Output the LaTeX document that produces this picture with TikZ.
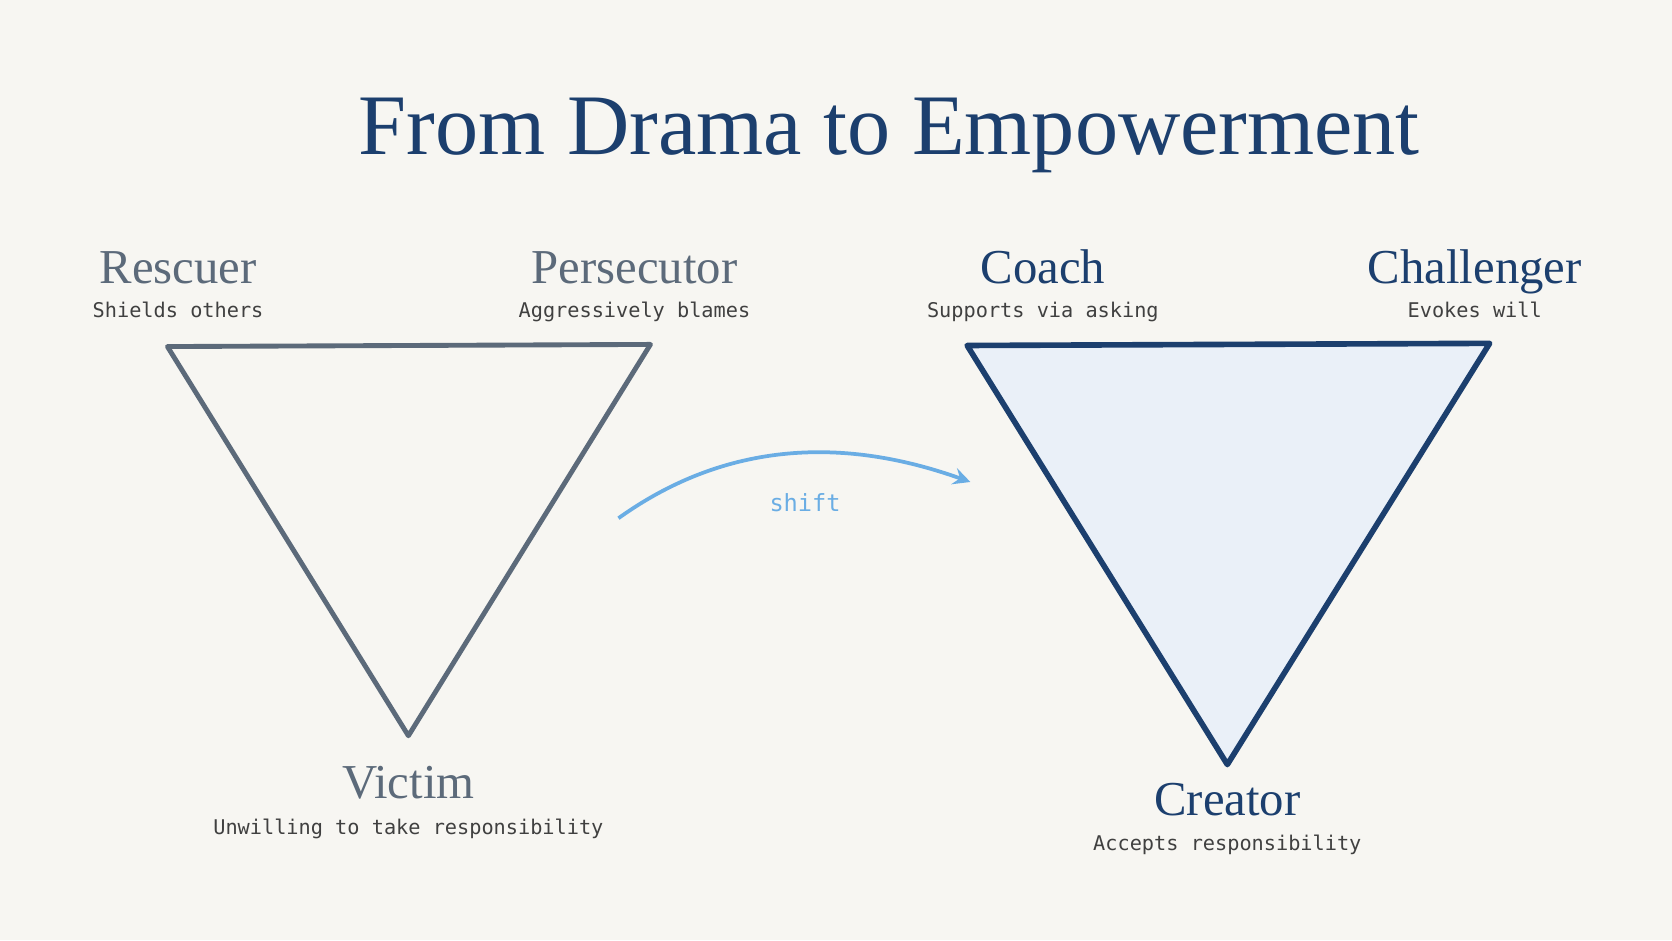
\documentclass[tikz,border=0pt]{standalone}
\usepackage{fontspec}
\setmainfont{Liberation Serif}
\setmonofont{DejaVu Sans Mono}
\usetikzlibrary{positioning, arrows.meta}
\tikzset{>=stealth}
\definecolor{bgpaper}{HTML}{F7F6F2}
\definecolor{navy}{HTML}{1C3F6E}
\definecolor{slate}{HTML}{5C6A7A}
\definecolor{paleblue}{HTML}{EAF0F8}
\definecolor{skyblue}{HTML}{6AADE4}
\tikzset{
  role/.style={anchor=base, font=\fontsize{13}{15}\selectfont},
  note/.style={anchor=base, font=\ttfamily\fontsize{5.4}{7}\selectfont, text=black!75},
}
\begin{document}
\begin{tikzpicture}[x=0.01cm, y=-0.01cm]
	\fill [bgpaper] (0,0) rectangle (1568,882);
	\node (title) [anchor=base, text=navy, font=\fontsize{23}{26}\selectfont] at (834,145) {From Drama to Empowerment};
	% drama triangle
	\coordinate (r) at (157,325);
	\coordinate (p) at (610,323);
	\coordinate (v) at (383,690);
	\draw [slate, line width=1.3pt, line join=round] (r) -- (p) -- (v) -- cycle;
	\node (rescuer) [role, text=slate] at (167,266) {Rescuer};
	\node (rescuernote) [note] at (167,298) {Shields others};
	\node (persecutor) [role, text=slate] at (595,266) {Persecutor};
	\node (persecutornote) [note] at (595,298) {Aggressively blames};
	\node (victim) [role, text=slate] at (383,749) {Victim};
	\node (victimnote) [note] at (383,783) {Unwilling to take responsibility};
	% empowerment triangle
	\coordinate (co) at (907,324);
	\coordinate (ch) at (1397,322);
	\coordinate (cr) at (1151,717);
	\draw [navy, fill=paleblue, line width=1.5pt, line join=round] (co) -- (ch) -- (cr) -- cycle;
	\node (coach) [role, text=navy] at (978,266) {Coach};
	\node (coachnote) [note] at (978,298) {Supports via asking};
	\node (challenger) [role, text=navy] at (1383,266) {Challenger};
	\node (challengernote) [note] at (1383,298) {Evokes will};
	\node (creator) [role, text=navy] at (1151,765) {Creator};
	\node (creatornote) [note] at (1151,798) {Accepts responsibility};
	% shift
	\coordinate (from) at (580,486);
	\coordinate (to) at (910,452);
	\draw [->, skyblue, line width=1pt] (from) .. controls (700,400) and (820,420) .. (to);
	\node (shiftlabel) [note, text=skyblue, font=\ttfamily\fontsize{6.3}{8}\selectfont] at (755,480) {shift};
\end{tikzpicture}
\end{document}
